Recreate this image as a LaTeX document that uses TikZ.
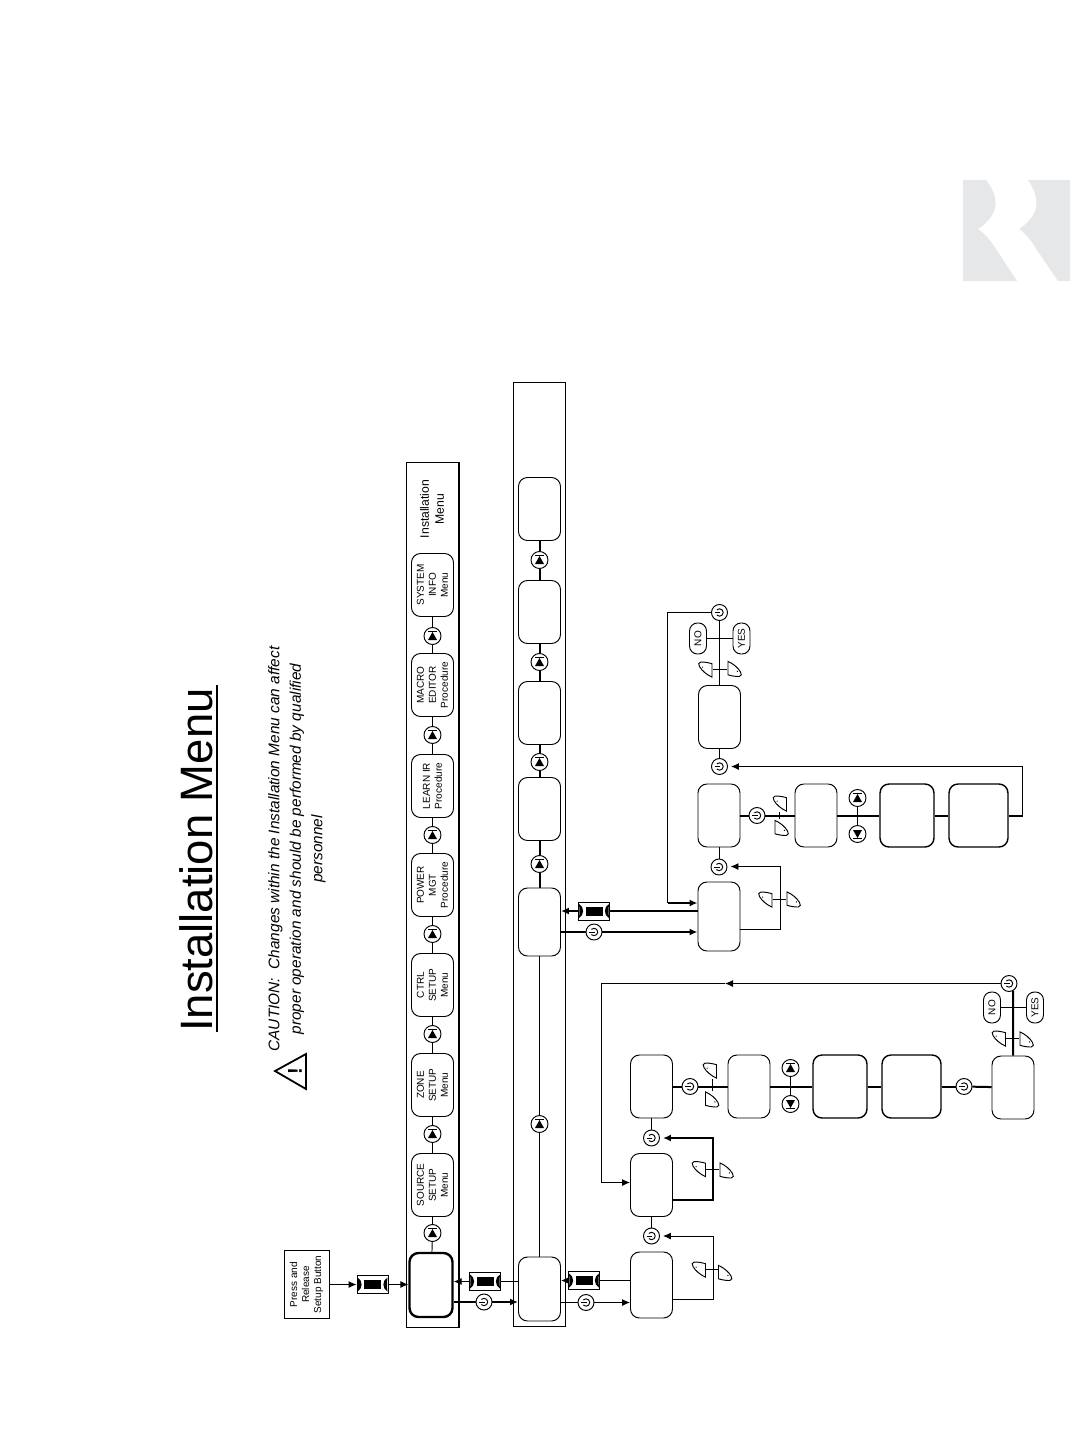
\documentclass[tikz,border=0pt]{standalone}
\usepackage{fontspec}
\setmainfont{Liberation Sans}
\usetikzlibrary{arrows.meta}

\definecolor{logogray}{HTML}{E6E7E8}

\newcommand{\softpathleft}{
	\draw[hair] (7,7.6) -- (7,-5.8) .. controls (3,-7) and (-1,-7.6) .. (-4.3,-7.5) .. controls (-6.6,-7.4) and (-7,-4.6) .. (-5.4,-2.8) .. controls (-3,1.4) and (2,5.4) .. cycle;
	\fill (-2.4,-2.4) circle (.7);
}
\newcommand{\softpathright}{
	\draw[hair] (-7,-7.6) -- (-7,5.8) .. controls (-3,7) and (1,7.6) .. (4.3,7.5) .. controls (6.6,7.4) and (7,4.6) .. (5.4,2.8) .. controls (3,-1.4) and (-2,-5.4) .. cycle;
	\fill (2.4,2.4) circle (.7);
}

\tikzset{
	hair/.style={line width=.95pt},
	bold/.style={line width=2pt},
	tip/.style={-{Latex[length=8pt,width=7pt]}},
	panel/.style={draw, hair, inner sep=0pt},
	blank/.style={draw, hair, rounded corners=9pt, inner sep=0pt, minimum width=42pt, minimum height=63pt},
	item/.style={blank, rotate=90, align=center, minimum width=63pt, minimum height=42pt, font=\fontsize{10}{12}\selectfont},
	pill/.style={draw, hair, rotate=90, rounded corners=8pt, inner sep=0pt, minimum width=31pt, minimum height=17pt, font=\fontsize{10}{12}\selectfont},
	enterkey/.style={draw, hair, inner sep=0pt, minimum width=31pt, minimum height=18pt, path picture={
		\begin{scope}[shift={(path picture bounding box.center)}]
			\fill (-8.5,-4.5) rectangle (8.5,4.5);
			\fill (-15,-7) .. controls (-9.5,-4) and (-9.5,4) .. (-15,7) .. controls (-14.5,4) and (-14.5,-4) .. cycle;
			\fill (15,-7) .. controls (9.5,-4) and (9.5,4) .. (15,7) .. controls (14.5,4) and (14.5,-4) .. cycle;
		\end{scope}}},
	upkey/.style={circle, draw, hair, inner sep=0pt, minimum size=17pt, path picture={
		\begin{scope}[shift={(path picture bounding box.center)}]
			\fill (0,-4) -- (4.5,4) -- (-4.5,4) -- cycle;
			\draw[hair] (-4.5,-4.5) -- (4.5,-4.5);
		\end{scope}}},
	downkey/.style={circle, draw, hair, inner sep=0pt, minimum size=17pt, path picture={
		\begin{scope}[shift={(path picture bounding box.center)}]
			\fill (0,4) -- (4.5,-4) -- (-4.5,-4) -- cycle;
			\draw[hair] (-4.5,4.5) -- (4.5,4.5);
		\end{scope}}},
	powerkey/.style={circle, draw, hair, inner sep=0pt, minimum size=16pt, path picture={
		\begin{scope}[shift={(path picture bounding box.center)}]
			\draw[hair] (-2.6,2.6) arc[start angle=135, end angle=-135, radius=3.7];
			\draw[hair] (-4.8,0) -- (0.5,0);
		\end{scope}}},
	softleft/.style={inner sep=0pt, minimum width=15pt, minimum height=17pt, path picture={
		\begin{scope}[shift={(path picture bounding box.center)}]
			\softpathleft
		\end{scope}}},
	softright/.style={inner sep=0pt, minimum width=15pt, minimum height=17pt, path picture={
		\begin{scope}[shift={(path picture bounding box.center)}]
			\softpathright
		\end{scope}}},
}

\begin{document}
\begin{tikzpicture}[x=1pt, y=-1pt]

	\useasboundingbox (0,0) rectangle (1080,1440);

	\fill[logogray] (963,180) -- (986,180) .. controls (994,190) and (997,200) .. (995,208) .. controls (993,216) and (986,224) .. (978,229) .. controls (986,234) and (992,243) .. (996,249) -- (1017,281) -- (963,281) -- cycle;
	\fill[logogray] (1028,180) -- (1070,180) -- (1070,281) -- (1058,281) -- (1035,247) .. controls (1031,240) and (1025,233) .. (1019,229) .. controls (1027,224) and (1034,216) .. (1036,208) .. controls (1038,198) and (1034,189) .. (1028,180) -- cycle;

	\node (title) [rotate=90, inner sep=0pt, font=\fontsize{45.4}{50}\selectfont] at (196,860) {Installation Menu};
	\draw[line width=2pt] (217,685) -- (217,1032);
	\node (caution) [rotate=90, align=center, inner sep=0pt, font=\fontsize{15.4}{21.5}\selectfont\itshape] at (297,849) {CAUTION:~~Changes within the Installation Menu can affect\\proper operation and should be performed by qualified\\personnel};
	\draw[line width=1.8pt] (275,1071) -- (306,1054) -- (306,1089) -- cycle;
	\node (bang) [rotate=90, inner sep=0pt, font=\fontsize{20}{20}\selectfont\bfseries] at (295,1071) {!};

	\node (press) [panel, rotate=90, align=center, minimum width=68pt, minimum height=45pt, font=\fontsize{10}{12}\selectfont] at (306.5,1284.5) {Press and\\Release\\Setup Button};
	\node (r0) [enterkey] at (372.5,1284.5) {};

	\node (band1) [panel, minimum width=52pt, minimum height=865pt] at (432.5,895) {};
	\draw[bold] (band1.north east) -- (band1.south east);
	\node (band2) [panel, minimum width=52pt, minimum height=944pt] at (539.5,854.5) {};

	\node (a0) [blank, line width=2.4pt, minimum width=43pt, minimum height=64pt] at (431,1285) {};
	\node (a1) [item] at (432.5,1185) {SOURCE\\SETUP\\Menu};
	\node (a2) [item] at (432.5,1085) {ZONE\\SETUP\\Menu};
	\node (a3) [item] at (432.5,985) {CTRL\\SETUP\\Menu};
	\node (a4) [item] at (432.5,885) {POWER\\MGT\\Procedure};
	\node (a5) [item] at (432.5,786) {LEARN IR\\Procedure};
	\node (a6) [item] at (432.5,685) {MACRO\\EDITOR\\Procedure};
	\node (a7) [item] at (432.5,585) {SYSTEM\\INFO\\Menu};
	\node (menu) [rotate=90, align=center, inner sep=0pt, font=\fontsize{12.2}{15}\selectfont] at (432,509) {Installation\\Menu};

	\node (k1) [upkey] at (432.5,1233) {};
	\node (k2) [upkey] at (432.5,1134) {};
	\node (k3) [upkey] at (432.5,1034) {};
	\node (k4) [upkey] at (432.5,934) {};
	\node (k5) [upkey] at (432.5,835) {};
	\node (k6) [upkey] at (432.5,735) {};
	\node (k7) [upkey] at (432.5,636) {};

	\node (b1) [blank, minimum height=64pt] at (539.5,1289) {};
	\node (b2) [blank, minimum height=68pt] at (539.5,922) {};
	\node (b3) [blank] at (539.5,809) {};
	\node (b4) [blank] at (539.5,713) {};
	\node (b5) [blank] at (539.5,612) {};
	\node (b6) [blank] at (539.5,509) {};

	\node (j1) [upkey] at (539.5,1124) {};
	\node (j2) [upkey] at (539.5,864) {};
	\node (j3) [upkey] at (539.5,762) {};
	\node (j4) [upkey] at (539.5,662) {};
	\node (j5) [upkey] at (539.5,560) {};

	\node (r1) [enterkey] at (485,1281.5) {};
	\node (p1) [powerkey] at (484,1302) {};
	\node (r2) [enterkey] at (584,1280.5) {};
	\node (p2) [powerkey] at (586,1302.5) {};
	\node (r3) [enterkey] at (594,911) {};
	\node (p3) [powerkey] at (594,932) {};

	\node (c1) [blank, minimum height=66pt] at (651.5,1285) {};
	\node (c2) [blank] at (651.5,1185) {};
	\node (c3) [blank] at (651.5,1086.5) {};
	\node (c4) [blank] at (749,1086.5) {};
	\node (c5) [blank, line width=1.4pt, minimum width=54pt] at (840,1086.5) {};
	\node (c6) [blank, line width=1.4pt, minimum width=59pt] at (911.5,1086.5) {};
	\node (c7) [blank] at (1013,1087.5) {};

	\node (p4) [powerkey] at (651.5,1236) {};
	\node (p5) [powerkey] at (651.5,1138) {};
	\node (p6) [powerkey] at (690,1086.5) {};
	\node (p7) [powerkey] at (964,1086.5) {};
	\node (p8) [powerkey] at (1009,983.5) {};
	\node (u1) [upkey] at (790.5,1068) {};
	\node (u2) [downkey] at (790.5,1104) {};
	\node (no1) [pill] at (992,1007.5) {NO};
	\node (yes1) [pill] at (1035,1007.5) {YES};

	\node (s1) [softleft] at (698.5,1269.5) {};
	\node (s2) [softright] at (725.5,1273) {};
	\node (s3) [softleft] at (698.5,1169) {};
	\node (s4) [softright] at (727,1170.5) {};
	\node (s5) [softleft] at (709.5,1070.5) {};
	\node (s6) [softright] at (712.5,1099.5) {};
	\node (s7) [softleft] at (998.5,1038.5) {};
	\node (s8) [softright] at (1027,1039.5) {};

	\node (e1) [blank, minimum height=69pt] at (719,916.5) {};
	\node (e2) [blank] at (719,815.5) {};
	\node (e3) [blank] at (816,815.5) {};
	\node (e4) [blank, line width=1.4pt, minimum width=54pt] at (907,815.5) {};
	\node (e5) [blank, line width=1.4pt, minimum width=59pt] at (978.5,815.5) {};
	\node (e6) [blank] at (719.5,717) {};

	\node (p9) [powerkey] at (719,867) {};
	\node (p10) [powerkey] at (757,815.5) {};
	\node (p11) [powerkey] at (719.5,766.5) {};
	\node (p12) [powerkey] at (719.5,612.5) {};
	\node (u3) [upkey] at (857.5,798) {};
	\node (u4) [downkey] at (857.5,834) {};
	\node (no2) [pill] at (698,638.5) {NO};
	\node (yes2) [pill] at (741.5,638.5) {YES};

	\node (s9) [softleft] at (765,899.5) {};
	\node (s10) [softright] at (794,899.5) {};
	\node (s11) [softleft] at (779.5,803.5) {};
	\node (s12) [softright] at (782,828) {};
	\node (s13) [softleft] at (705,669.5) {};
	\node (s14) [softright] at (735,669) {};

	\coordinate (w1) at (713.5,1299.5);
	\coordinate (w2) at (713.5,1236);
	\coordinate (w3) at (713,1200);
	\coordinate (w4) at (713,1138);
	\coordinate (w5) at (601.5,1182.5);
	\coordinate (m1) at (725,983.5);
	\coordinate (w6) at (780.5,929.5);
	\coordinate (w7) at (780.5,866.5);
	\coordinate (w8) at (667.5,903);
	\coordinate (w9) at (1022.5,815.5);
	\coordinate (w10) at (1022.5,766.5);

	\path[hair]
	(a0) edge (k1)
	(k1) edge (a1)
	(a1) edge (k2)
	(k2) edge (a2)
	(a2) edge (k3)
	(k3) edge (a3)
	(a3) edge (k4)
	(k4) edge (a4)
	(a4) edge (k5)
	(k5) edge (a5)
	(a5) edge (k6)
	(k6) edge (a6)
	(a6) edge (k7)
	(k7) edge (a7)
	(b1) edge (j1)
	(j1) edge (b2)
	(p4) edge (c2)
	(p5) edge (c3)
	(p9) edge (e2)
	(p11) edge (e6)
	(e6) edge (p12)
	(no1) edge (yes1)
	(no2) edge (yes2)
	(u1) edge (u2)
	(u3) edge (u4)
	(s1) edge (s1 -| s2.west)
	(s3) edge (s3 -| s4.west)
	(s6) edge (s6 |- s5.south)
	(s7) edge (s7 -| s8.west)
	(s9) edge (s9 -| s10.west)
	(s11) edge (s11 |- s12.north)
	(s13) edge (s13 -| s14.west);

	\path[bold]
	(b2) edge (j2)
	(j2) edge (b3)
	(b3) edge (j3)
	(j3) edge (b4)
	(b4) edge (j4)
	(j4) edge (b5)
	(b5) edge (j5)
	(j5) edge (b6)
	(c3) edge (p6)
	(p6) edge (c4)
	(c4) edge (c5)
	(c5) edge (c6)
	(c6) edge (p7)
	(p7) edge (c7)
	(c7) edge (p8.300)
	(e2) edge (p10)
	(p10) edge (e3)
	(e3) edge (e4)
	(e4) edge (e5)
	(e5) edge (w9);

	\path[hair, tip]
	(press) edge (r0)
	(r0) edge (r0 -| a0.west)
	(r1) edge (r1 -| a0.east)
	(r2) edge (r2 -| b1.east)
	(p2) edge (p2 -| c1.west);

	\path[bold, tip]
	(p1) edge (p1 -| b1.west)
	(r3) edge (r3 -| b2.east)
	(p3) edge (p3 -| e1.west);

	\draw[bold] (p1) -- (p1 -| a0.east);
	\draw[hair] (r1) -- (r1 -| b1.west);
	\draw[hair] (p2) -- (p2 -| b1.east);
	\draw[hair] (r2) -- (r2 -| c1.west);
	\draw[bold] (p3) -- (p3 -| b2.east);
	\draw[bold] (r3) -- (r3 -| e1.west);

	\draw[hair, tip, shorten >=3pt] (w1 -| c1.east) -- (w1) -- (w2) -- (w2 -| p4.east);
	\draw[bold, tip, shorten >=3pt] (w3 -| c2.east) -- (w3) -- (w4) -- (w4 -| p5.east);
	\draw[hair, tip] (p8) -- (m1);
	\draw[hair, tip] (m1) -- (m1 -| w5) -- (w5) -- (w5 -| c2.west);
	\draw[hair, tip, shorten >=3pt] (w6 -| e1.east) -- (w6) -- (w7) -- (w7 -| p9.east);
	\draw[hair] (p12) -- (p12 -| w8) -- (w8);
	\draw[bold, tip] (w8) -- (w8 -| e1.west);
	\draw[hair, tip, shorten >=3pt] (w9) -- (w10) -- (p11);

\end{tikzpicture}
\end{document}
